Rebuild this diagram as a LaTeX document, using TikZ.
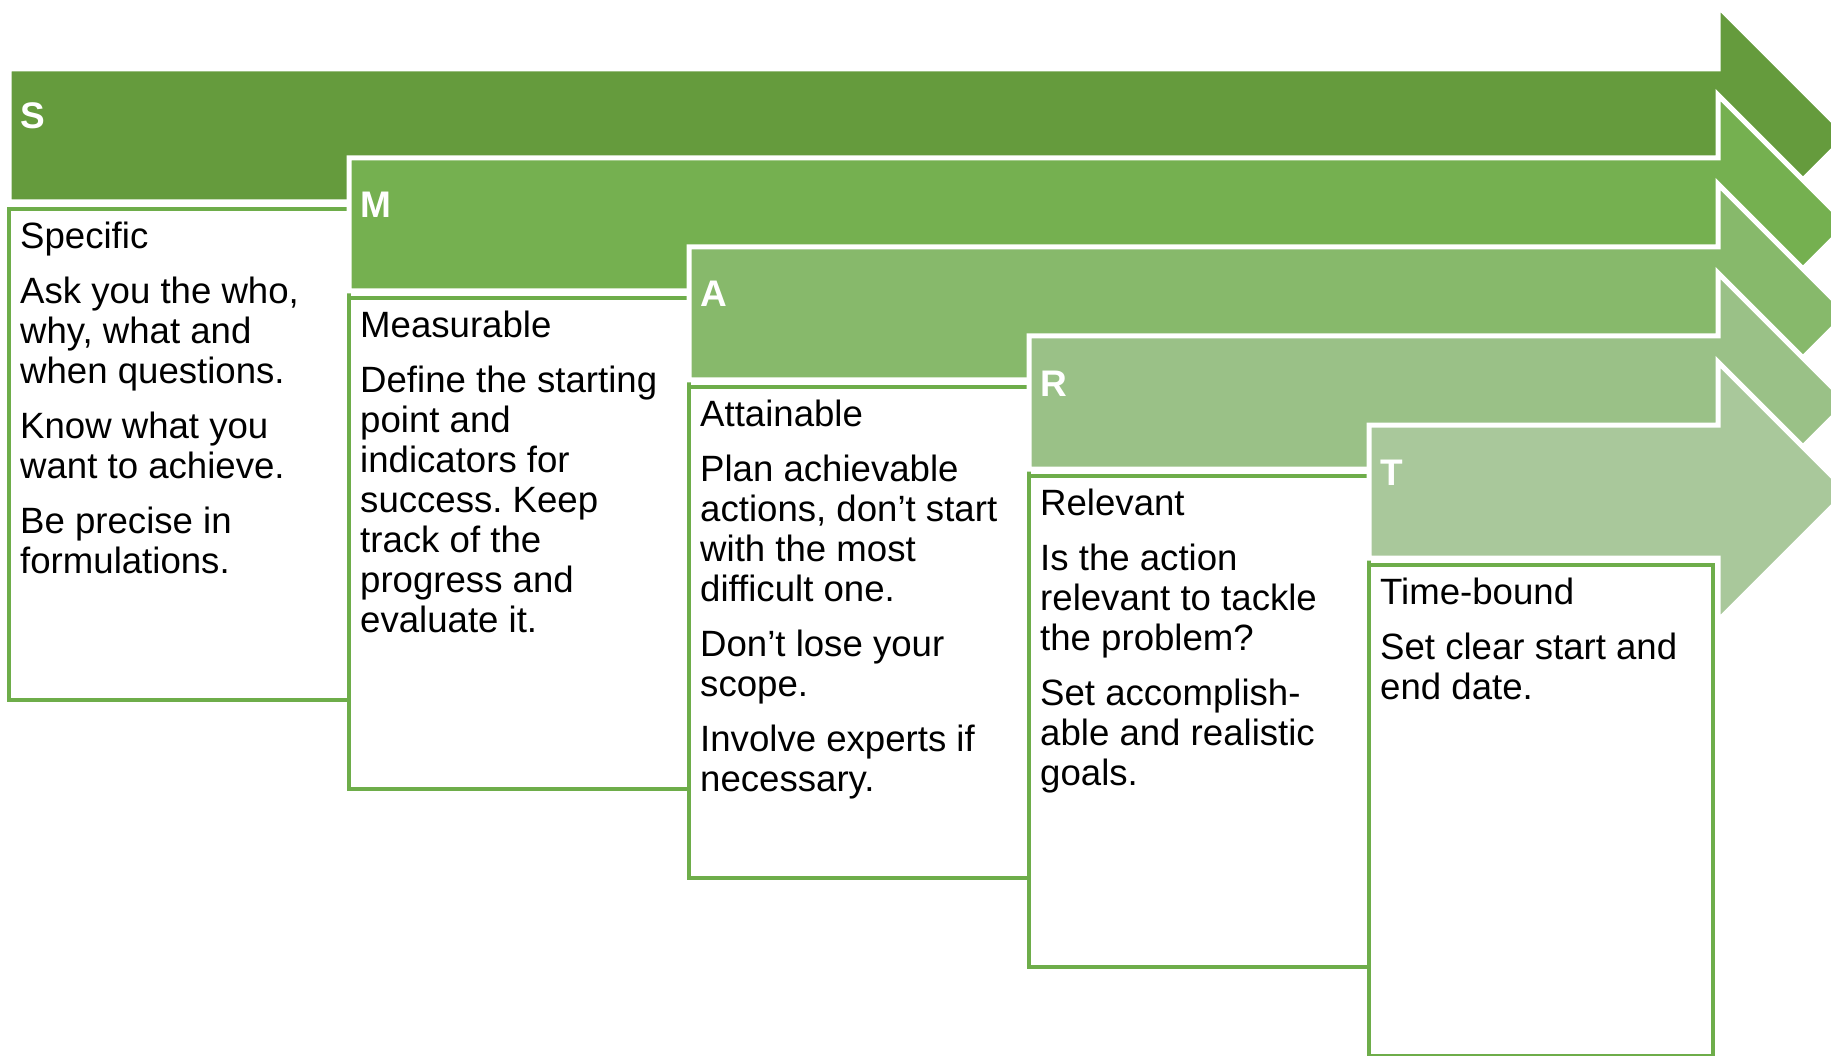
\documentclass[tikz,border=0pt]{standalone}
\usepackage{fontspec}
\setmainfont{Liberation Sans}
\definecolor{gS}{HTML}{659B3D}
\definecolor{gM}{HTML}{75B050}
\definecolor{gA}{HTML}{87B96B}
\definecolor{gR}{HTML}{9AC187}
\definecolor{gT}{HTML}{A9C89B}
\definecolor{cardframe}{HTML}{6EAD4A}
% fixed-height strut so that the first baseline sits 30pt below the node top
\newcommand\topstrut{\rule{0pt}{30pt}}
\tikzset{
  band/.style={draw=white, line width=5pt, line join=miter},
  card/.style={draw=cardframe, line width=4pt, fill=white},
  letter/.style={anchor=base west, text=white, inner sep=0pt,
    font=\fontsize{37}{40}\selectfont\bfseries},
  cardtext/.style={anchor=north west, align=left, inner sep=0pt,
    font=\fontsize{36.6}{40}\selectfont\frenchspacing},
}
\begin{document}
\begin{tikzpicture}[x=1pt,y=-1pt]
\path[use as bounding box, clip] (0,0) rectangle (1831,1056);
\fill[white] (0,0) rectangle (1831,1056);
% description cards, one per step
\foreach \i in {0,...,4}{
  \pgfmathsetmacro\xl{9+340*\i}
  \pgfmathsetmacro\xr{\i==4 ? 1713 : 349+340*\i}
  \pgfmathsetmacro\yt{209+89*\i}
  \pgfmathsetmacro\yb{700+89*\i}
  \draw[card] (\xl,\yt) rectangle (\xr,\yb);
}
% stacked arrows, drawn from top to bottom
\foreach \i/\c in {0/gS,1/gM,2/gA,3/gR,4/gT}{
  \pgfmathsetmacro\xl{9+340*\i}
  \pgfmathsetmacro\ya{69+89*\i}
  \pgfmathsetmacro\yb{\ya+133}
  \pgfmathsetmacro\yc{\ya+66.5}
  \pgfmathsetmacro\yh{\ya-63}
  \pgfmathsetmacro\yk{\yb+63}
  \filldraw[band, fill=\c] (\xl,\ya) -- (1718,\ya) -- (1718,\yh) -- (1847.5,\yc)
    -- (1718,\yk) -- (1718,\yb) -- (\xl,\yb) -- cycle;
}
% step letters
\node[letter] (lS) at (20,129) {S};
\node[letter] (lM) at (360,218) {M};
\node[letter] (lA) at (700,307) {A};
\node[letter] (lR) at (1040,396) {R};
\node[letter] (lT) at (1380,485) {T};
% card texts (first baseline 30pt below the given point)
\node[cardtext] (tS) at (20,218) {\topstrut Specific\\[15pt]
  Ask you the who,\\ why, what and\\ when questions.\\[15pt]
  Know what you\\ want to achieve.\\[15pt]
  Be precise in\\ formulations.};
\node[cardtext] (tM) at (360,307) {\topstrut Measurable\\[15pt]
  Define the starting\\ point and\\ indicators for\\ success. Keep\\
  track of the\\ progress and\\ evaluate it.};
\node[cardtext] (tA) at (700,396) {\topstrut Attainable\\[15pt]
  Plan achievable\\ actions, don't start\\ with the most\\ difficult one.\\[15pt]
  Don't lose your\\ scope.\\[15pt]
  Involve experts if\\ necessary.};
\node[cardtext] (tR) at (1040,485) {\topstrut Relevant\\[15pt]
  Is the action\\ relevant to tackle\\ the problem?\\[15pt]
  Set accomplish-\\ able and realistic\\ goals.};
\node[cardtext] (tT) at (1380,574) {\topstrut Time-bound\\[15pt]
  Set clear start and\\ end date.};
\end{tikzpicture}
\end{document}
